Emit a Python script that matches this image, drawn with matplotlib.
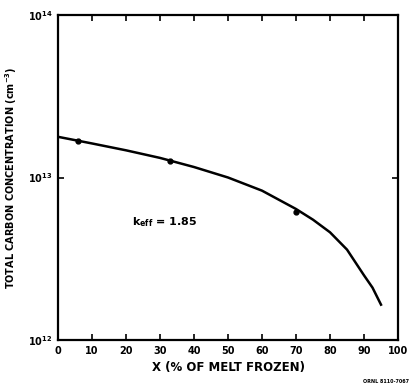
import matplotlib
matplotlib.use("Agg")
import matplotlib.pyplot as plt

# measured points
pts_x = [6, 33, 70]
pts_c = [1.68e13, 1.27e13, 6.1e12]

# fitted curve
curve_x = [0, 10, 20, 30, 40, 50, 60, 70, 75, 80, 85, 90, 92.5, 95]
curve_c = [1.78e13, 1.62e13, 1.47e13, 1.32e13, 1.16e13, 1.0e13, 8.3e12,
           6.4e12, 5.5e12, 4.6e12, 3.6e12, 2.5e12, 2.1e12, 1.65e12]

xticks = [0, 10, 20, 30, 40, 50, 60, 70, 80, 90, 100]
yticks = [1e12, 1e13, 1e14]
ytick_labels = ["$\\mathbf{10^{12}}$", "$\\mathbf{10^{13}}$", "$\\mathbf{10^{14}}$"]

plt.rcParams['font.family'] = ['DejaVu Sans']
plt.rcParams['font.weight'] = 'bold'

fig = plt.figure(figsize=(4.11, 3.86), dpi=100)
ax = fig.add_axes([58 / 411, 46 / 386, 340 / 411, 325 / 386])

ax.plot(curve_x, curve_c, 'k-', linewidth=1.8)
ax.plot(pts_x, pts_c, 'ko', markersize=3.5)

ax.set_yscale('log')
ax.set_xlim(0, 100)
ax.set_ylim(1e12, 1e14)
ax.minorticks_off()
ax.set_xticks(xticks)
ax.set_yticks(yticks)
ax.set_yticklabels(ytick_labels)
ax.tick_params(direction='in', top=True, right=True, length=4, width=1.2,
               labelsize=7, pad=4)
for lab in ax.get_xticklabels():
    lab.set_fontweight('bold')
for s in ax.spines.values():
    s.set_linewidth(1.6)

ax.set_xlabel("X (% OF MELT FROZEN)", fontsize=8.5, fontweight='bold', labelpad=4)
ax.set_ylabel("TOTAL CARBON CONCENTRATION (cm$^{\\mathbf{-3}}$)", fontsize=7,
              fontweight='bold', labelpad=6)

ax.text(31.5, 5.3e12, "k$_{\\mathbf{eff}}$ = 1.85", fontsize=8, fontweight='bold',
        ha='center', va='center')

fig.text(0.995, 0.005, "ORNL 8110-7067", fontsize=3.5, ha='right', va='bottom')

fig.savefig("out.png", dpi=100)
